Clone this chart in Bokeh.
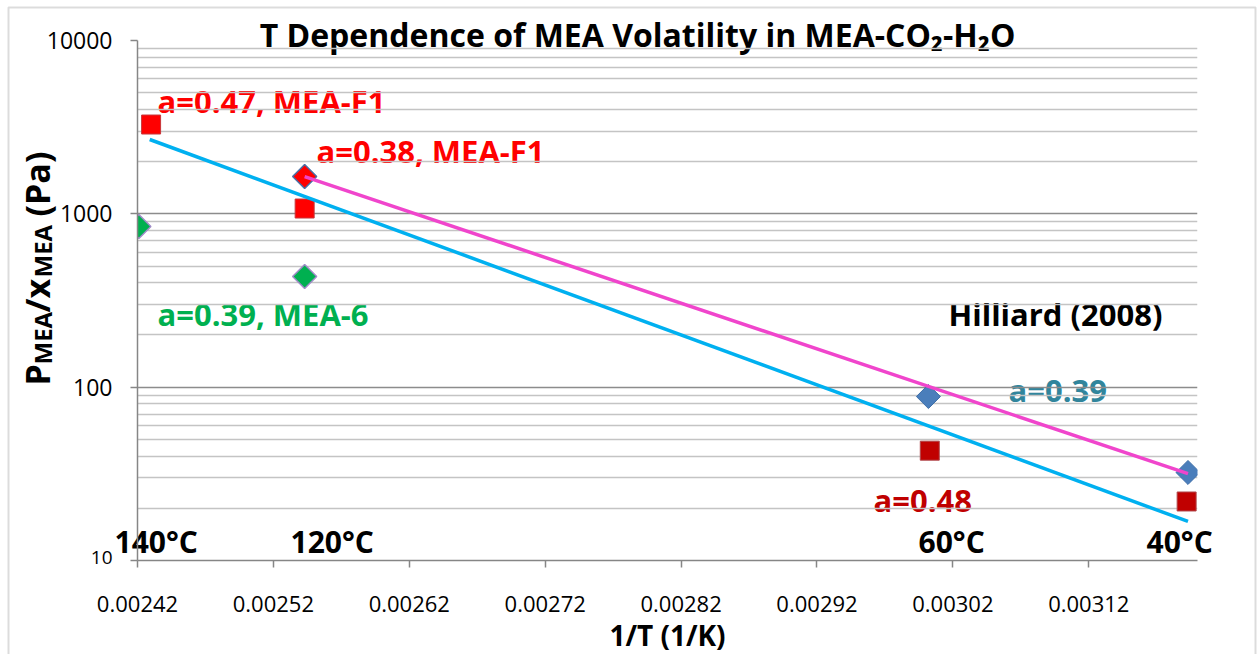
import numpy as np
from bokeh.plotting import figure
from bokeh.core.properties import value
from bokeh.models import Range1d, FixedTicker, PrintfTickFormatter, Label, PolyAnnotation
from bokeh.embed import file_html
from bokeh.resources import INLINE

# ---- data: 1/T (1/K) against P_MEA/x_MEA (Pa) ----
mea_f1_047_x = [0.002430, 0.002543]
mea_f1_047_y = [3275, 1073]
mea_f1_038_x = [0.002543]
mea_f1_038_y = [1641]
mea6_039_x = [0.002421, 0.002543]
mea6_039_y = [845, 435]
hilliard_039_x = [0.003002, 0.003193]
hilliard_039_y = [88.3, 32.2]
hilliard_048_x = [0.003003, 0.003192]
hilliard_048_y = [43.0, 21.9]

# exponential trend lines (end points)
trend_cyan_x = [0.002429, 0.003193]
trend_cyan_y = [2685, 16.8]
trend_pink_x = [0.002543, 0.003193]
trend_pink_y = [1641, 31.7]

x_ticks = [0.00242, 0.00252, 0.00262, 0.00272, 0.00282, 0.00292, 0.00302, 0.00312]
y_ticks = [10, 100, 1000, 10000]
y_tick_labels = ["", "100", "1000", "10000"]
y_minor = [m * 10 ** e for e in (1, 2, 3) for m in range(2, 10)]

temp_labels = ["140°C", "120°C", "60°C", "40°C"]

# ---- layout geometry (canvas pixels) ----
W, H = 1257, 654
L, R, T, B = 137, 1197, 40, 560
X0, X1 = 0.00242, 0.0032
Y0, Y1 = 10, 10000

FONT = "Open Sans"
SHIFT = 12  # the label box sits this far below the requested baseline

# ---------------------------------------------------------------
# text layer: a full-canvas frame measured in pixels
# ---------------------------------------------------------------
text_layer = figure(width=W, height=H, x_range=Range1d(0, W), y_range=Range1d(0, H),
                    x_axis_location=None, y_axis_location=None, min_border=0,
                    output_backend="svg", toolbar_location=None)
text_layer.outline_line_color = None
text_layer.xgrid.visible = False
text_layer.ygrid.visible = False
text_layer.background_fill_color = "white"
text_layer.border_fill_color = "white"


def label(px, py, text, size="31px", color="black", align="left", bold=True):
    """Place text with its baseline at canvas pixel (px, py), y counted from the top."""
    text_layer.add_layout(Label(x=px, y=H - (py - SHIFT), text=text, text_font=FONT,
                                text_font_size=size, text_color=color,
                                text_align=align, text_baseline="alphabetic",
                                text_font_style="bold" if bold else "normal"))


# outer frame of the chart area
text_layer.add_layout(PolyAnnotation(xs=[8, 1255, 1255, 8],
                                     ys=[H - 7, H - 7, -60, -60],
                                     fill_alpha=0, line_color="#8a8a8a", line_width=2))

# title
label(637, 46, "T Dependence of MEA Volatility in MEA-CO\u2082-H\u2082O", size="32px", align="center")

# series annotations
label(157, 112, "a=0.47, MEA-F1", color="#FF0000")
label(316, 162, "a=0.38, MEA-F1", color="#FF0000")
label(157, 325, "a=0.39, MEA-6", color="#00B050")
label(948, 325, "Hilliard (2008)")
label(1008, 401, "a=0.39", color="#31859C")
label(873, 511, "a=0.48", color="#C00000")

# temperature markers along the bottom
for px, t in zip([114, 290, 918, 1146], temp_labels):
    label(px, 553, t, size="30px")

# bottom tick value drawn smaller
label(112, 569, "10", size="19px", align="right", bold=False)

# x axis title
label(667, 646, "1/T (1/K)", size="28px", align="center")

# y axis title with subscripts, reading upwards
ylab_main = ["P", "/x", "(Pa)"]
ylab_main_pos = [385, 312, 216]
ylab_sub = ["MEA", "MEA"]
ylab_sub_pos = [364, 277]
text_layer.text(x=[36] * len(ylab_main), y=[H - v for v in ylab_main_pos], text=ylab_main,
                angle=np.pi / 2, text_font=value(FONT), text_font_size="34px",
                text_font_style="bold", text_baseline="alphabetic", text_color="black")
text_layer.text(x=[42] * len(ylab_sub), y=[H - v for v in ylab_sub_pos], text=ylab_sub,
                angle=np.pi / 2, text_font=value(FONT), text_font_size="24px",
                text_font_style="bold", text_baseline="alphabetic", text_color="black")

# ---------------------------------------------------------------
# chart layer, transparent, laid on top of the text layer
# ---------------------------------------------------------------
p = figure(width=W, height=H, x_range=Range1d(X0, X1), y_range=Range1d(Y0, Y1),
           y_axis_type="log", output_backend="svg", toolbar_location=None,
           min_border_left=L, min_border_right=W - R, min_border_top=T,
           min_border_bottom=H - B,
           styles={"position": "absolute", "top": "0px", "left": "0px"})
p.outline_line_color = None
p.background_fill_color = None
p.border_fill_color = None

yt = FixedTicker(ticks=y_ticks, minor_ticks=y_minor)
p.yaxis.ticker = yt
p.ygrid.ticker = yt
p.yaxis.major_label_overrides = dict(zip(y_ticks, y_tick_labels))
xt = FixedTicker(ticks=x_ticks)
p.xaxis.ticker = xt
p.xaxis.formatter = PrintfTickFormatter(format="%.5f")

for ax in (p.xaxis, p.yaxis):
    ax.axis_line_color = "#868686"
    ax.axis_line_width = 1.5
    ax.major_tick_line_color = "#868686"
    ax.major_tick_line_width = 1.5
    ax.major_tick_out = 7
    ax.major_tick_in = 0
    ax.minor_tick_line_color = None
    ax.major_label_text_font = FONT
    ax.major_label_text_font_size = "22px"
    ax.major_label_text_color = "black"
p.yaxis.major_label_text_font_size = "23px"
p.yaxis.major_label_standoff = 18
p.xaxis.major_label_standoff = 28

p.xgrid.grid_line_color = None
p.ygrid.grid_line_color = "#8c8c8c"
p.ygrid.grid_line_width = 1.5
p.ygrid.minor_grid_line_color = "#c4c4c4"
p.ygrid.minor_grid_line_width = 1.5

# markers
p.scatter(mea6_039_x, mea6_039_y, marker="square", angle=np.pi / 4, size=17,
          fill_color="#00B050", line_color="#A08CC8", line_width=1.5)
p.scatter(mea_f1_047_x, mea_f1_047_y, marker="square", size=19,
          fill_color="#FF0000", line_color="#C8373A", line_width=1)
p.scatter(hilliard_048_x, hilliard_048_y, marker="square", size=19,
          fill_color="#C00000", line_color="#B0484C", line_width=1)
p.scatter(hilliard_039_x, hilliard_039_y, marker="square", angle=np.pi / 4, size=17,
          fill_color="#4A7EBB", line_color="#3F6FA8", line_width=1)
p.scatter(mea_f1_038_x, mea_f1_038_y, marker="square", angle=np.pi / 4, size=17,
          fill_color="#FF0000", line_color="#4A6FA5", line_width=1.5)

# trend lines
p.line(trend_cyan_x, trend_cyan_y, line_color="#00B0F0", line_width=3.5)
p.line(trend_pink_x, trend_pink_y, line_color="#F045CC", line_width=3.5)

open("out.html", "w").write(file_html([text_layer, p], INLINE))
